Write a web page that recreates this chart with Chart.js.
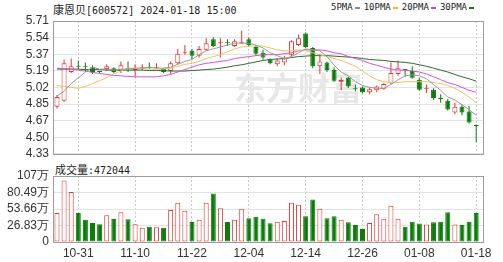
<!DOCTYPE html>
<html>
<head>
<meta charset="utf-8">
<script src="https://cdn.jsdelivr.net/npm/chart.js@4/dist/chart.umd.min.js"></script>
<style>
  body { margin: 0; background: #fff; width: 503px; height: 262px; overflow: hidden; position: relative; }
  #kc { position: absolute; left: 0; top: 0; }
  #vc { position: absolute; left: 0; top: 160px; }
  .txt { position: absolute; white-space: nowrap; color: #222; line-height: 12px; }
  .cjk { font: 11px "Noto Sans CJK SC", sans-serif; }
  .asc { font: 10px "DejaVu Sans Mono", monospace; }
  .leg { font: 9px "DejaVu Sans Mono", monospace; color: #222; }
  .dash { display: inline-block; width: 5px; height: 2px; vertical-align: middle; margin: 0 4px 0 2px; }
</style>
</head>
<body>
<div class="txt" style="left:53px;top:1px"><span class="cjk">康恩贝</span><span class="asc">[600572] 2024-01-18 15:00</span></div>
<div class="txt leg" style="left:331px;top:2px">5PMA<span class="dash" style="background:#8c8c8c"></span>10PMA<span class="dash" style="background:#f2b72e"></span>20PMA<span class="dash" style="background:#e03ce0"></span>30PMA<span class="dash" style="background:#2b6e2b"></span></div>
<div class="txt" style="left:55px;top:161px"><span class="cjk">成交量</span><span class="asc">:472044</span></div>
<canvas id="kc" width="503" height="165"></canvas>
<canvas id="vc" width="503" height="102"></canvas>
<script>
var dates = ['10-26','10-27','10-30','10-31','11-01','11-02','11-03','11-06','11-07','11-08',
             '11-09','11-10','11-13','11-14','11-15','11-16','11-17','11-20','11-21','11-22',
             '11-23','11-24','11-27','11-28','11-29','11-30','12-01','12-04','12-05','12-06',
             '12-07','12-08','12-11','12-12','12-13','12-14','12-15','12-18','12-19','12-20',
             '12-21','12-22','12-25','12-26','12-27','12-28','12-29','01-02','01-03','01-04',
             '01-05','01-08','01-09','01-10','01-11','01-12','01-15','01-16','01-17','01-18'];

var opens  = [4.82,4.88,5.18,5.24,5.24,5.23,5.19,5.21,5.22,5.19, 5.22,5.20,5.22,5.23,5.225,5.21,5.19,5.27,5.38,5.40,
              5.35,5.41,5.52,5.48,5.49,5.45,5.48,5.52,5.44,5.38, 5.31,5.26,5.28,5.36,5.46,5.58,5.43,5.24,5.28,5.20,
              5.08,5.12,5.01,5.02,4.97,4.99,5.005,5.065,5.16,5.21, 5.19,5.10,5.00,4.995,4.91,4.88,4.76,4.82,4.77,4.63];
var highs  = [4.94,5.31,5.32,5.30,5.28,5.25,5.19,5.26,5.23,5.29, 5.29,5.26,5.26,5.28,5.27,5.22,5.29,5.42,5.46,5.42,
              5.45,5.53,5.54,5.53,5.52,5.52,5.61,5.54,5.46,5.41, 5.32,5.32,5.35,5.51,5.57,5.59,5.44,5.37,5.29,5.23,
              5.12,5.13,5.05,5.03,5.02,5.04,5.065,5.28,5.30,5.21, 5.24,5.12,5.05,5.01,4.95,4.90,4.86,4.84,4.83,4.635];
var lows   = [4.80,4.87,5.17,5.21,5.18,5.16,5.17,5.19,5.17,5.17, 5.18,5.13,5.20,5.21,5.21,5.17,5.16,5.26,5.36,5.31,
              5.33,5.40,5.44,5.33,5.45,5.44,5.47,5.44,5.35,5.31, 5.26,5.24,5.25,5.34,5.45,5.43,5.22,5.16,5.18,5.08,
              4.99,5.015,4.98,4.96,4.95,4.97,4.995,5.055,5.14,5.13, 5.11,4.985,4.96,4.89,4.86,4.78,4.74,4.73,4.645,4.45];
var closes = [4.92,5.27,5.24,5.235,5.23,5.18,5.18,5.24,5.18,5.25, 5.21,5.21,5.23,5.225,5.23,5.18,5.27,5.37,5.39,5.35,
              5.42,5.48,5.45,5.49,5.48,5.50,5.49,5.46,5.37,5.33, 5.27,5.30,5.32,5.50,5.53,5.44,5.24,5.29,5.20,5.09,
              5.10,5.03,5.00,4.97,5.00,5.03,5.055,5.17,5.22,5.20, 5.12,4.995,5.01,4.91,4.90,4.79,4.82,4.76,4.655,4.62];

// volume, in 万
var vols = [47,100,81.5,47,36,31,29,43.5,37.5,48.5, 37,29,23,25,24,23,52,64,51,32.5,
            36,64,79,55,32.5,36,54,38.6,41,38, 30.5,33,34,64,60.5,42,69,54,38.6,42,
            36,32,27.5,21,31,45,38,59,38,25, 33,30,28.5,32,33,48.5,28.5,27.5,33,47.2044];

var ma5  = [4.93,4.98,5.06,5.12,5.18,5.23,5.21,5.21,5.20,5.21, 5.21,5.22,5.22,5.23,5.22,5.22,5.23,5.26,5.29,5.31,
            5.36,5.40,5.42,5.44,5.46,5.48,5.48,5.48,5.46,5.43, 5.38,5.35,5.32,5.34,5.38,5.42,5.41,5.40,5.34,5.25,
            5.18,5.14,5.08,5.04,5.02,5.01,5.01,5.05,5.10,5.14, 5.15,5.14,5.11,5.05,4.99,4.92,4.89,4.84,4.79,4.73];
var ma10 = [5.04,5.03,5.02,5.01,5.03,5.06,5.09,5.12,5.16,5.19, 5.22,5.22,5.22,5.21,5.21,5.21,5.22,5.24,5.26,5.27,
            5.29,5.32,5.34,5.36,5.39,5.42,5.44,5.45,5.45,5.45, 5.43,5.41,5.40,5.40,5.41,5.40,5.38,5.36,5.34,5.32,
            5.30,5.27,5.24,5.19,5.14,5.10,5.08,5.07,5.07,5.08, 5.08,5.08,5.08,5.07,5.06,5.04,5.01,4.97,4.92,4.86];
var ma20 = [5.22,5.215,5.21,5.20,5.19,5.175,5.165,5.155,5.145,5.14, 5.135,5.13,5.13,5.13,5.13,5.14,5.155,5.18,5.205,5.23,
            5.255,5.27,5.28,5.29,5.30,5.32,5.33,5.34,5.35,5.36, 5.36,5.36,5.37,5.38,5.40,5.41,5.41,5.41,5.40,5.38,
            5.37,5.34,5.32,5.30,5.27,5.25,5.23,5.21,5.20,5.20, 5.19,5.18,5.16,5.13,5.10,5.07,5.05,5.02,4.99,4.97];
var ma30 = [5.21,5.21,5.21,5.21,5.205,5.205,5.205,5.20,5.20,5.20, 5.20,5.20,5.20,5.195,5.195,5.195,5.19,5.19,5.19,5.195,
            5.20,5.205,5.21,5.22,5.23,5.245,5.255,5.27,5.285,5.30, 5.31,5.315,5.32,5.33,5.34,5.345,5.35,5.35,5.35,5.345,
            5.34,5.335,5.33,5.32,5.31,5.305,5.30,5.29,5.285,5.28, 5.27,5.255,5.24,5.22,5.20,5.18,5.155,5.13,5.11,5.085];

var priceTicks = ['4.33','4.50','4.67','4.85','5.02','5.19','5.37','5.54','5.71'];
var volTicks = ['0','26.83万','53.66万','80.49万','107万'];
var xTicks = ['10-31','11-10','11-22','12-04','12-14','12-26','01-08','01-18'];

var RED = '#e8322e', GREEN = '#0b7d0b';
var up = closes.map(function (c, i) { return c >= opens[i]; });
var xMin = -0.56, xMax = 60.1;
var pLo = 4.33, pHi = 5.71, vHi = 107.32;
var FONT = { family: '"Liberation Sans", Arial, sans-serif', size: 12 };

function xTickBuilder(scale) {
    scale.ticks = xTicks.map(function (t) { return { value: dates.indexOf(t) }; });
}

var boxPlugin = {
    id: 'box',
    afterDraw: function (chart) {
        var a = chart.chartArea, ctx = chart.ctx;
        ctx.save();
        ctx.strokeStyle = '#9d9d9d';
        ctx.lineWidth = 1;
        ctx.strokeRect(Math.round(a.left) + 0.5, Math.round(a.top) + 0.5,
                       Math.round(a.right - a.left) - 1, Math.round(a.bottom - a.top));
        ctx.restore();
    }
};

var markPlugin = {
    id: 'mark',
    beforeDatasetsDraw: function (chart) {
        var a = chart.chartArea, ctx = chart.ctx;
        ctx.save();
        ctx.fillStyle = '#e7e7e7';
        ctx.font = 'bold 32px "Noto Sans CJK SC", sans-serif';
        ctx.textBaseline = 'middle';
        ctx.fillText('东方财富', a.left + 181, a.top + 67);
        ctx.restore();
    }
};

function pts(arr) { return arr.map(function (v, i) { return { x: i, y: v }; }); }
function maLine(arr, color) {
    return { type: 'line', data: pts(arr), borderColor: color, borderWidth: 1,
             pointRadius: 0, tension: 0, order: 0 };
}

new Chart(document.getElementById('kc').getContext('2d'), {
    type: 'bar',
    data: {
        datasets: [
            maLine(ma5, '#9a9a9a'),
            maLine(ma10, '#f3c25c'),
            maLine(ma20, '#da4fda'),
            maLine(ma30, '#2e6a2e'),
            {
                label: 'body',
                data: opens.map(function (o, i) { return { x: i, y: [o, closes[i]] }; }),
                backgroundColor: up.map(function (u) { return u ? '#ffffff' : GREEN; }),
                borderColor: up.map(function (u) { return u ? RED : GREEN; }),
                borderWidth: 1, borderSkipped: false, barThickness: 5, minBarLength: 1,
                inflateAmount: 0, grouped: false, order: 1
            },
            {
                label: 'wick',
                data: lows.map(function (l, i) { return { x: i, y: [l, highs[i]] }; }),
                backgroundColor: up.map(function (u) { return u ? RED : GREEN; }),
                borderWidth: 0, barThickness: 1, inflateAmount: 0, grouped: false, order: 2
            }
        ]
    },
    options: {
        responsive: false,
        animation: false,
        events: [],
        layout: { padding: { top: 21, right: 19, bottom: 8, left: 0 } },
        plugins: { legend: { display: false }, tooltip: { enabled: false } },
        scales: {
            x: {
                type: 'linear', min: xMin, max: xMax, offset: false,
                afterBuildTicks: xTickBuilder,
                afterFit: function (s) { s.height = 0; },
                ticks: { display: false },
                grid: { color: '#c9c9c9', drawTicks: false, offset: false },
                border: { display: false, dash: [2, 2] }
            },
            y: {
                min: pLo, max: pHi,
                afterBuildTicks: function (s) {
                    s.ticks = priceTicks.map(function (t, k) { return { value: pLo + k * (pHi - pLo) / 8 }; });
                },
                afterFit: function (s) { s.width = 53; },
                ticks: { callback: function (v, k) { return priceTicks[k]; }, font: FONT, color: '#333',
                         padding: 4, autoSkip: false },
                grid: { color: '#e3e3e3', drawTicks: false },
                border: { display: false }
            }
        }
    },
    plugins: [markPlugin, boxPlugin]
});

new Chart(document.getElementById('vc').getContext('2d'), {
    type: 'bar',
    data: {
        datasets: [{
            label: 'volume',
            data: pts(vols),
            backgroundColor: up.map(function (u) { return u ? '#ffffff' : GREEN; }),
            borderColor: up.map(function (u) { return u ? RED : GREEN; }),
            borderWidth: 1, borderSkipped: false, barThickness: 5, inflateAmount: 0
        }]
    },
    options: {
        responsive: false,
        animation: false,
        events: [],
        layout: { padding: { top: 16, right: 19, bottom: 0, left: 0 } },
        plugins: { legend: { display: false }, tooltip: { enabled: false } },
        scales: {
            x: {
                type: 'linear', min: xMin, max: xMax, offset: false,
                afterBuildTicks: xTickBuilder,
                afterFit: function (s) { s.height = 20; },
                ticks: { callback: function (v) { return dates[v]; }, font: FONT, color: '#333', padding: 4,
                         maxRotation: 0, autoSkip: false },
                grid: { color: '#c9c9c9', drawTicks: false, offset: false },
                border: { display: false, dash: [2, 2] }
            },
            y: {
                min: 0, max: vHi,
                afterBuildTicks: function (s) {
                    s.ticks = volTicks.map(function (t, k) { return { value: k * vHi / 4 }; });
                },
                afterFit: function (s) { s.width = 53; },
                ticks: { callback: function (v, k) { return volTicks[k]; }, font: FONT, color: '#333',
                         padding: 4, autoSkip: false },
                grid: { color: '#e3e3e3', drawTicks: false },
                border: { display: false }
            }
        }
    },
    plugins: [boxPlugin]
});
</script>
</body>
</html>
